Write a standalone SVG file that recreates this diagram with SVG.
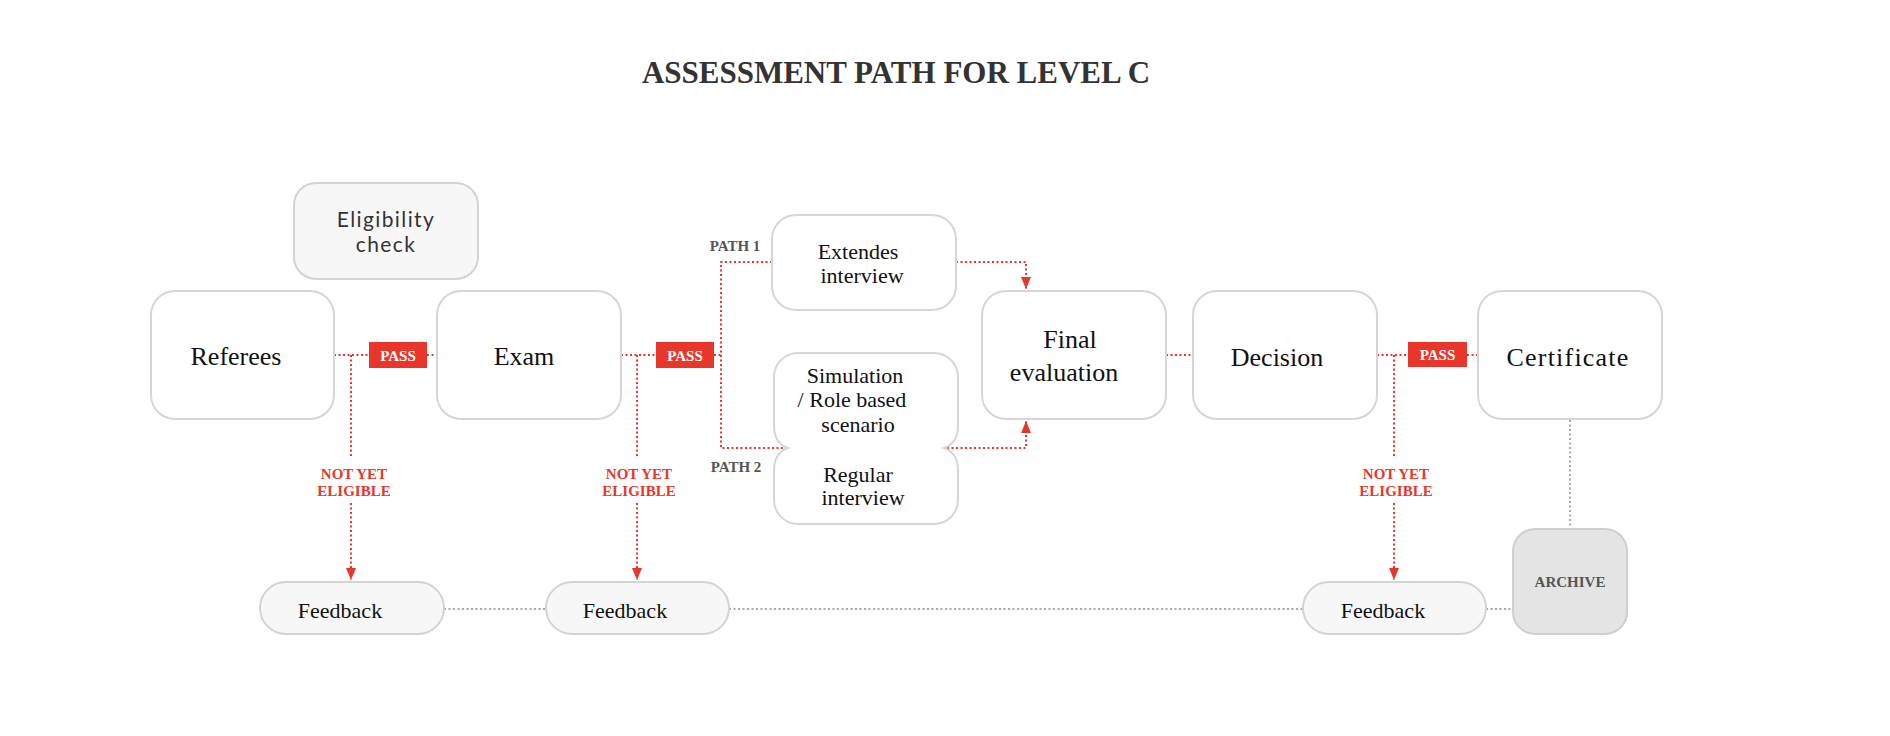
<svg xmlns="http://www.w3.org/2000/svg" width="1890" height="736" viewBox="0 0 1890 736">
<style>
.bg{fill:#ffffff}
.box{fill:#ffffff;stroke:#d6d6d6;stroke-width:2}
.soft{fill:#f7f7f7;stroke:#d3d3d3;stroke-width:2}
.arch{fill:#e4e4e4;stroke:#cfcfcf;stroke-width:2}
.big{font-family:"Liberation Serif",serif;font-size:26px;fill:#111;text-anchor:middle}
.mid{font-family:"Liberation Serif",serif;font-size:22px;fill:#111;text-anchor:middle}
.sans{font-family:Lato,"Open Sans",sans-serif;font-size:21px;fill:#333;text-anchor:middle}
.lbl{font-family:"Liberation Serif",serif;font-size:15px;font-weight:bold;text-anchor:middle}
.red{fill:#e8372a}
.gray{fill:#555}
.pass{fill:#e8372a}
.title{font-family:"Liberation Serif",serif;font-size:31px;font-weight:bold;fill:#333;text-anchor:middle}
.rl{fill:none;stroke:#e8372a;stroke-width:2;stroke-dasharray:2 2.5}
.gl{fill:none;stroke:#aaaaaa;stroke-width:2;stroke-dasharray:2 2.5}
</style>
<defs>
<marker id="ah" markerUnits="userSpaceOnUse" markerWidth="14" markerHeight="10" refX="12" refY="5" orient="auto">
<path d="M0,0 L12,5 L0,10 Z" fill="#e8372a"/>
</marker>
</defs>
<rect class="bg" x="0" y="0" width="1890" height="736"/>
<text class="title" x="896" y="83">ASSESSMENT PATH FOR LEVEL C</text>

<g id="connectors">
<path class="rl" d="M334,355 H369"/>
<path class="rl" d="M427,355 H437"/>
<path class="rl" d="M351,355 V457"/>
<path class="rl" d="M351,503 V580" marker-end="url(#ah)"/>
<path class="rl" d="M621,355 H656"/>
<path class="rl" d="M714,355 H721"/>
<path class="rl" d="M637,355 V457"/>
<path class="rl" d="M637,503 V580" marker-end="url(#ah)"/>
<path class="rl" d="M772,262 H721 V448 H788"/>
<path class="rl" d="M956,262 H1026 V289" marker-end="url(#ah)"/>
<path class="rl" d="M947,448 H1026 V421" marker-end="url(#ah)"/>
<path class="rl" d="M1166,355 H1193"/>
<path class="rl" d="M1377,355 H1408"/>
<path class="rl" d="M1467,355 H1478"/>
<path class="rl" d="M1394,355 V457"/>
<path class="rl" d="M1394,503 V580" marker-end="url(#ah)"/>
<path class="gl" d="M444,609 H546"/>
<path class="gl" d="M729,609 H1303"/>
<path class="gl" d="M1486,609 H1513"/>
<path class="gl" d="M1570,420 V529"/>
<text class="lbl red" x="354" y="479">NOT YET</text>
<text class="lbl red" x="354" y="496">ELIGIBLE</text>
<text class="lbl red" x="639" y="479">NOT YET</text>
<text class="lbl red" x="639" y="496">ELIGIBLE</text>
<text class="lbl red" x="1396" y="479">NOT YET</text>
<text class="lbl red" x="1396" y="496">ELIGIBLE</text>
<text class="lbl gray" x="735" y="251">PATH 1</text>
<text class="lbl gray" x="736" y="472">PATH 2</text>
<rect class="pass" x="369" y="342" width="58" height="26"/>
<text class="lbl" x="398" y="361" fill="#fff">PASS</text>
<rect class="pass" x="656" y="342" width="58" height="26"/>
<text class="lbl" x="685" y="361" fill="#fff">PASS</text>
<rect class="pass" x="1408" y="342" width="59" height="25"/>
<text class="lbl" x="1437.5" y="360" fill="#fff">PASS</text>
</g>

<g id="eligibility">
<rect class="soft" x="294" y="183" width="184" height="96" rx="22"/>
<text class="sans" x="386" y="227" letter-spacing="1.4">Eligibility</text>
<text class="sans" x="386" y="252" letter-spacing="1.4">check</text>
</g>
<g id="referees">
<rect class="box" x="151" y="291" width="183" height="128" rx="24"/>
<text class="big" x="236" y="365">Referees</text>
</g>
<g id="exam">
<rect class="box" x="437" y="291" width="184" height="128" rx="24"/>
<text class="big" x="524" y="365">Exam</text>
</g>
<g id="extended">
<rect class="box" x="772" y="215" width="184" height="95" rx="24"/>
<text class="mid" x="858" y="259">Extendes</text>
<text class="mid" x="862" y="283">interview</text>
</g>
<g id="simulation-regular">
<path class="box" d="M797,353 H934 A24,24 0 0 1 958,377 V426 Q958,443 944,448 Q958,453 958,470 V500 A24,24 0 0 1 934,524 H797 A24,24 0 0 1 774,500 V470 Q774,453 788,448 Q774,443 774,426 V377 A24,24 0 0 1 797,353 Z"/>
<text class="mid" x="855" y="383">Simulation</text>
<text class="mid" x="852" y="407">/ Role based</text>
<text class="mid" x="858" y="432">scenario</text>
<text class="mid" x="858" y="482">Regular</text>
<text class="mid" x="863" y="505">interview</text>
</g>
<g id="final">
<rect class="box" x="982" y="291" width="184" height="128" rx="24"/>
<text class="big" x="1070" y="348">Final</text>
<text class="big" x="1064" y="381">evaluation</text>
</g>
<g id="decision">
<rect class="box" x="1193" y="291" width="184" height="128" rx="24"/>
<text class="big" x="1277" y="366">Decision</text>
</g>
<g id="certificate">
<rect class="box" x="1478" y="291" width="184" height="128" rx="24"/>
<text class="big" x="1568" y="366" letter-spacing="1.2">Certificate</text>
</g>
<g id="feedback1">
<rect class="soft" x="260" y="582" width="184" height="52" rx="26"/>
<text class="mid" x="340" y="618">Feedback</text>
</g>
<g id="feedback2">
<rect class="soft" x="546" y="582" width="183" height="52" rx="26"/>
<text class="mid" x="625" y="618">Feedback</text>
</g>
<g id="feedback3">
<rect class="soft" x="1303" y="582" width="183" height="52" rx="26"/>
<text class="mid" x="1383" y="618">Feedback</text>
</g>
<g id="archive">
<rect class="arch" x="1513" y="529" width="114" height="105" rx="22"/>
<text class="lbl gray" x="1570" y="587">ARCHIVE</text>
</g>
</svg>
